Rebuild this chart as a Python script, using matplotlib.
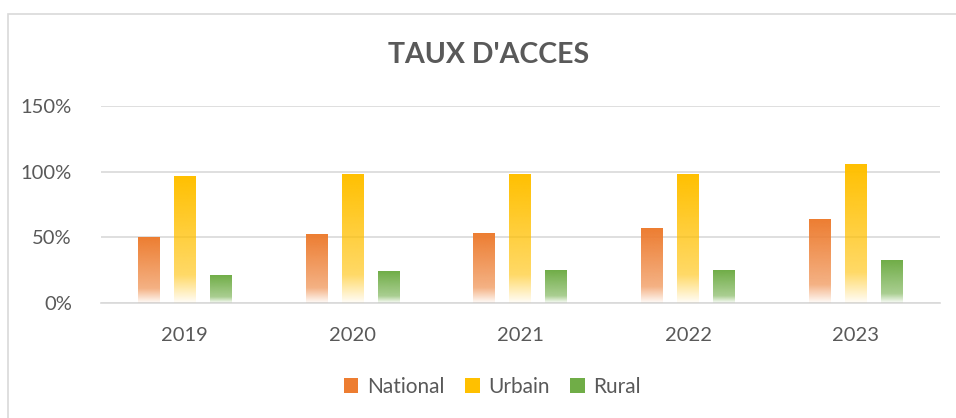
import numpy as np
import matplotlib
matplotlib.use("Agg")
import matplotlib.pyplot as plt
from matplotlib.colors import to_rgb
from matplotlib.patches import Rectangle, Patch
from matplotlib.ticker import PercentFormatter

plt.rcParams["font.family"] = ["Lato", "DejaVu Sans"]

# données
annees = ["2019", "2020", "2021", "2022", "2023"]
national = [0.50, 0.52, 0.53, 0.57, 0.635]
urbain = [0.96, 0.976, 0.976, 0.976, 1.055]
rural = [0.21, 0.24, 0.244, 0.244, 0.32]

series = [("National", national, "#ED7D31"),
          ("Urbain", urbain, "#FFC000"),
          ("Rural", rural, "#70AD47")]

gris = "#595959"


def gradient_image(color):
    # couleur pleine en haut, pâlit vers le bas
    r, g, b = to_rgb(color)
    t = np.linspace(0, 1, 200)  # 0 = haut, 1 = bas
    alpha = np.where(t < 0.78, 1.0 - 0.4 * t / 0.78,
                     0.6 - 0.57 * (t - 0.78) / 0.22)
    img = np.zeros((200, 1, 4))
    img[:, 0, 0] = r
    img[:, 0, 1] = g
    img[:, 0, 2] = b
    img[:, 0, 3] = alpha
    return img


fig = plt.figure(figsize=(9.56, 4.18), dpi=100)
ax = fig.add_axes([0.1056, 0.275, 0.8774, 0.471])

# cadre du graphique
fig.patches.append(Rectangle((8 / 956, -0.1), 1.2, 1 - 14 / 418 + 0.1,
                             transform=fig.transFigure, fill=False,
                             edgecolor="#D9D9D9", linewidth=1.2))

x = np.arange(len(annees))
largeur = 0.131
pas = 0.214

for i, (nom, vals, couleur) in enumerate(series):
    bars = ax.bar(x + (i - 1) * pas, vals, largeur, color="none", zorder=3)
    img = gradient_image(couleur)
    for p in bars.patches:
        x0, w, h = p.get_x(), p.get_width(), p.get_height()
        ax.imshow(img, extent=[x0, x0 + w, 0, h], aspect="auto",
                  interpolation="bilinear", zorder=3)

ax.set_xlim(-0.5, len(annees) - 0.5)
ax.set_ylim(0, 1.5)
ax.set_yticks([0, 0.5, 1.0, 1.5])
ax.yaxis.set_major_formatter(PercentFormatter(1.0, decimals=0))
ax.set_xticks(x)
ax.set_xticklabels(annees)

ax.grid(axis="y", color="#D9D9D9", linewidth=1.2, zorder=0)
ax.set_axisbelow(True)
for s in ["top", "right", "left"]:
    ax.spines[s].set_visible(False)
ax.spines["bottom"].set_color("#D9D9D9")
ax.spines["bottom"].set_linewidth(1.2)
ax.tick_params(axis="both", length=0, colors=gris, labelsize=14.5)
ax.tick_params(axis="y", pad=21)
ax.tick_params(axis="x", pad=17)

fig.text(0.511, 1 - 55 / 418, "TAUX D'ACCES", ha="center", va="center",
         fontsize=20.5, fontweight="bold", color=gris)

handles = [Patch(facecolor=c, edgecolor="none", label=n) for n, _, c in series]
leg = fig.legend(handles=handles, loc="center", ncol=3,
                 bbox_to_anchor=(0.515, 1 - 387 / 418), frameon=False,
                 fontsize=15, handlelength=0.7, handleheight=0.7,
                 handletextpad=0.4, columnspacing=1.0)
for t in leg.get_texts():
    t.set_color(gris)

fig.savefig("out.png", dpi=100)
